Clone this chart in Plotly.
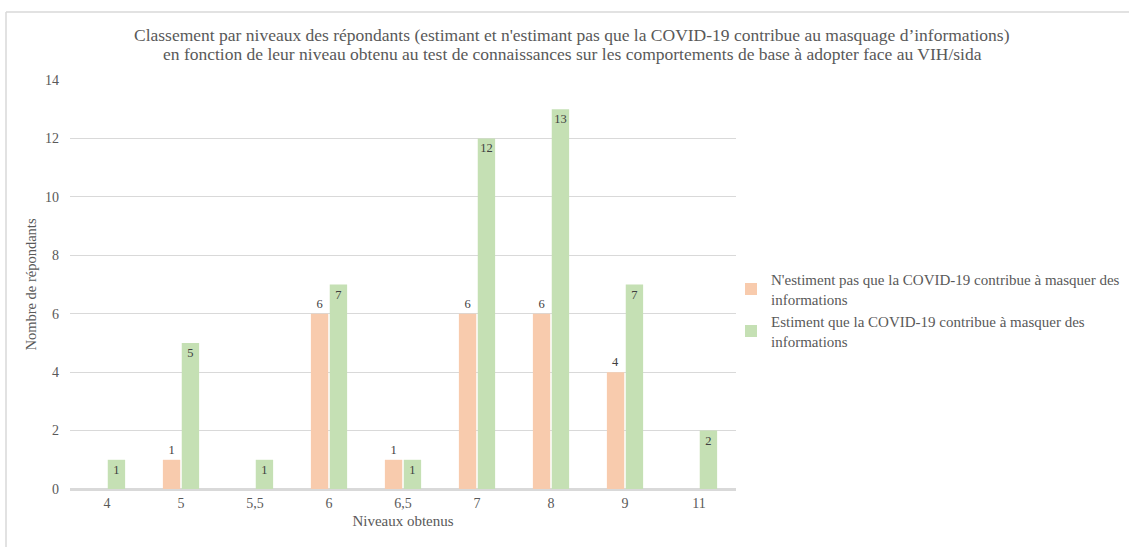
import plotly.graph_objects as go

niveaux = ["4", "5", "5,5", "6", "6,5", "7", "8", "9", "11"]
n_estiment_pas = [None, 1, None, 6, 1, 6, 6, 4, None]
estiment = [1, 5, 1, 7, 1, 12, 13, 7, 2]

nom_pas = "N'estiment pas que la COVID-19 contribue à masquer des<br>informations"
nom_oui = "Estiment que la COVID-19 contribue à masquer des<br>informations"
titre = [
    "Classement par niveaux des répondants (estimant et n'estimant pas que la COVID-19 contribue au masquage d’informations)",
    "en fonction de leur niveau obtenu au test de connaissances sur les comportements de base à adopter face au VIH/sida",
]

FONT = "Liberation Serif"
GRIS = "#595959"

L, R, T, B = 70, 393, 80, 58
W, H = 1129, 547
pw, ph = W - L - R, H - T - B


def px_x(v):
    return (v - L) / pw


def px_y(v):
    return (H - B - v) / ph


fig = go.Figure()
fig.add_trace(go.Bar(
    x=niveaux, y=n_estiment_pas, name=nom_pas,
    marker=dict(color="#F8CBAD", line=dict(width=0)),
    text=[("" if v is None else str(v)) for v in n_estiment_pas],
    textposition="outside", cliponaxis=False,
    textfont=dict(family=FONT, size=12.5, color="#404040"),
))
fig.add_trace(go.Bar(
    x=niveaux, y=estiment, name=nom_oui,
    marker=dict(color="#C5E0B4", line=dict(width=0)),
    text=[str(v) for v in estiment],
    textposition="inside", insidetextanchor="end",
    textangle=0,
    textfont=dict(family=FONT, size=12.5, color="#404040"),
))

# outer frame (left and top edges)
fig.add_shape(type="line", xref="paper", yref="paper",
              x0=px_x(6), x1=px_x(6), y0=px_y(547), y1=px_y(12),
              line=dict(color="#D9D9D9", width=1.5))
fig.add_shape(type="line", xref="paper", yref="paper",
              x0=px_x(6), x1=px_x(1129), y0=px_y(12), y1=px_y(12),
              line=dict(color="#D9D9D9", width=1.5))

# two-line chart title
for ligne, yc in zip(titre, (35, 54)):
    fig.add_annotation(
        text=ligne, xref="paper", yref="paper",
        x=px_x(572), y=px_y(yc), xanchor="center", yanchor="middle",
        showarrow=False, font=dict(family=FONT, size=17.5, color=GRIS),
    )

fig.update_layout(
    width=W, height=H,
    margin=dict(l=L, r=R, t=T, b=B, autoexpand=False),
    paper_bgcolor="white", plot_bgcolor="white",
    barmode="group", bargap=0.49, bargroupgap=0.08,
    font=dict(family=FONT, color=GRIS, size=12),
    uniformtext=dict(minsize=12, mode="show"),
    legend=dict(
        x=px_x(731), xanchor="left", y=px_y(263), yanchor="top",
        font=dict(family=FONT, size=15, color=GRIS),
        itemwidth=30,
        bgcolor="rgba(0,0,0,0)",
    ),
    showlegend=True,
)
fig.update_xaxes(
    type="category", title=dict(text="Niveaux obtenus", standoff=6,
                                font=dict(family=FONT, size=15, color=GRIS)),
    showgrid=False, showline=True, linecolor="#D9D9D9", linewidth=1.5,
    ticks="", tickfont=dict(family=FONT, size=14, color=GRIS),
    automargin=False,
)
fig.update_yaxes(
    range=[0, 14], dtick=2, tick0=0,
    title=dict(text="Nombre de répondants", standoff=4,
               font=dict(family=FONT, size=14.5, color=GRIS)),
    showgrid=True, gridcolor="#D9D9D9", gridwidth=1.2,
    zeroline=True, zerolinecolor="#D9D9D9", zerolinewidth=1.5,
    showline=False, ticks="", ticklabelstandoff=10,
    tickfont=dict(family=FONT, size=14, color=GRIS),
    automargin=False,
)

fig.write_html("out.html")
